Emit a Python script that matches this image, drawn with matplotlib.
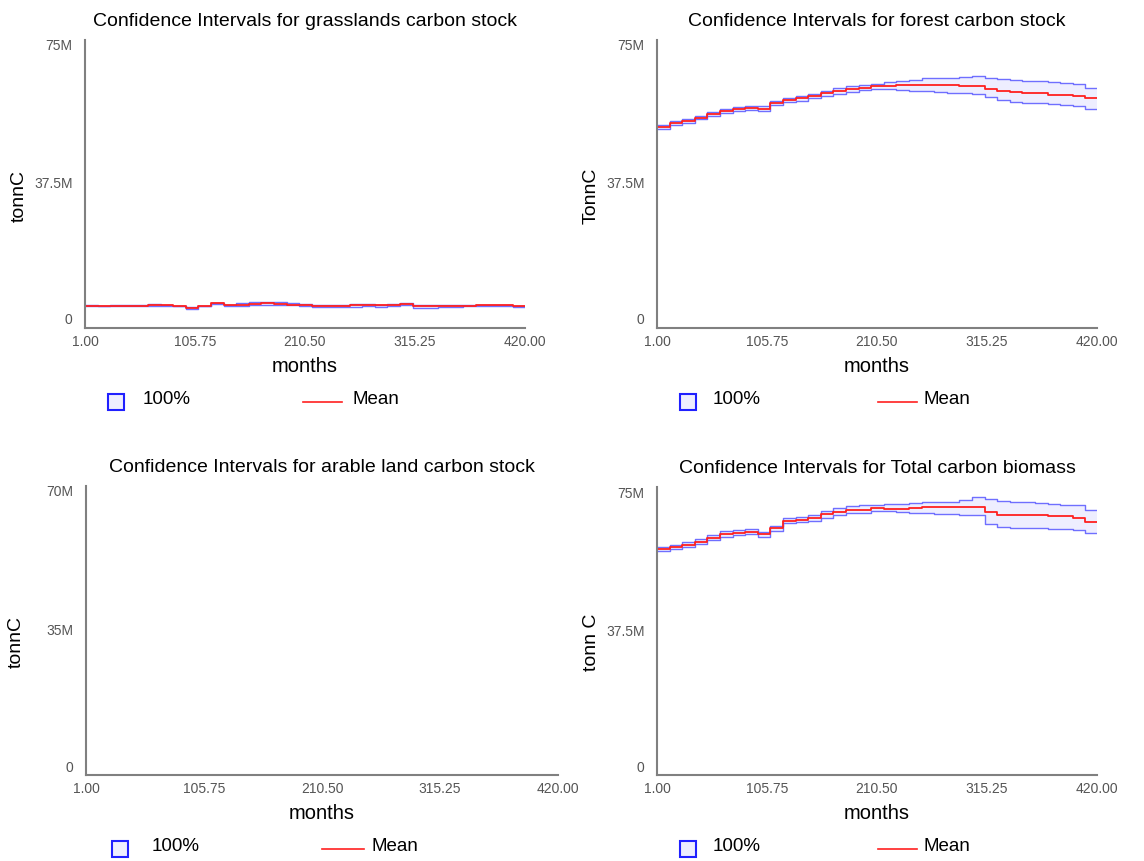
import numpy as np
import matplotlib
matplotlib.use("Agg")
from matplotlib import pyplot as plt
from matplotlib.transforms import ScaledTranslation

plt.rcParams['font.family'] = ['Liberation Sans', 'DejaVu Sans']

# month at which each yearly step starts (35 years -> 420 months)
months = np.arange(1, 421, 12)

# grasslands carbon stock [M tonnC]
grass_mean = [5.8, 5.75, 5.8, 5.8, 5.8, 6.0, 5.9, 5.75, 5.3, 5.75, 6.4, 5.9, 6.1, 6.3, 6.4,
              6.3, 6.1, 6.1, 5.8, 5.75, 5.8, 5.9, 6.0, 5.9, 6.0, 6.2, 5.75, 5.7, 5.75, 5.75,
              5.8, 6.0, 6.0, 5.9, 5.75]
grass_upper = [5.9, 5.85, 5.9, 5.9, 5.95, 6.2, 6.1, 5.85, 5.5, 5.85, 6.5, 6.1, 6.4, 6.7, 6.8,
               6.7, 6.4, 6.2, 5.9, 6.0, 6.1, 6.2, 6.2, 6.1, 6.2, 6.5, 6.1, 6.0, 6.0, 5.9,
               5.9, 6.1, 6.1, 6.0, 5.85]
grass_lower = [5.7, 5.65, 5.7, 5.7, 5.7, 5.6, 5.7, 5.65, 4.9, 5.6, 6.2, 5.7, 5.8, 5.9, 6.0,
               6.0, 5.9, 5.8, 5.5, 5.4, 5.4, 5.5, 5.6, 5.5, 5.6, 5.9, 5.3, 5.3, 5.4, 5.5,
               5.6, 5.8, 5.8, 5.7, 5.4]

# forest carbon stock [M TonnC]
forest_mean = [52.4, 53.3, 53.9, 54.8, 55.7, 56.5, 57.0, 57.4, 57.1, 58.6, 59.4, 59.8, 60.4,
               61.1, 61.7, 62.2, 62.6, 63.0, 63.1, 63.2, 63.3, 63.4, 63.4, 63.3, 63.1, 63.0,
               62.2, 61.7, 61.4, 61.2, 61.1, 60.8, 60.6, 60.5, 60.0]
forest_upper = [52.9, 53.8, 54.4, 55.3, 56.2, 57.0, 57.5, 57.9, 57.7, 59.2, 60.0, 60.4, 61.0,
                61.8, 62.4, 63.0, 63.3, 63.6, 64.0, 64.4, 64.7, 65.0, 65.0, 65.1, 65.3, 65.6,
                65.0, 64.8, 64.5, 64.4, 64.2, 64.0, 63.9, 63.6, 62.6]
forest_lower = [51.9, 52.8, 53.4, 54.3, 55.2, 56.0, 56.5, 56.9, 56.5, 58.0, 58.8, 59.2, 59.8,
                60.4, 61.0, 61.5, 61.9, 62.3, 62.2, 62.0, 61.8, 61.6, 61.4, 61.2, 61.1, 61.0,
                60.1, 59.4, 58.9, 58.7, 58.6, 58.4, 58.2, 57.9, 57.1]

# arable land carbon stock [M tonnC]
arable_mean = [0.0] * 35
arable_upper = [0.0] * 35
arable_lower = [0.0] * 35

# total carbon biomass [M tonn C]
total_mean = [58.8, 59.3, 59.9, 60.7, 61.7, 62.7, 63.1, 63.4, 62.7, 64.2, 66.2, 66.4, 66.9,
              67.9, 68.5, 69.0, 69.1, 69.5, 69.4, 69.3, 69.5, 69.7, 69.8, 69.7, 69.8, 69.9,
              68.5, 67.7, 67.6, 67.6, 67.7, 67.5, 67.4, 67.0, 66.0]
total_upper = [59.3, 59.9, 60.6, 61.4, 62.4, 63.5, 63.9, 64.1, 63.3, 64.8, 66.8, 67.1, 67.8,
               68.8, 69.5, 70.0, 70.2, 70.4, 70.5, 70.6, 70.8, 71.0, 71.2, 71.2, 71.6, 72.5,
               71.8, 71.3, 71.2, 71.0, 70.8, 70.6, 70.4, 70.2, 69.0]
total_lower = [58.3, 58.8, 59.4, 60.2, 61.1, 62.0, 62.5, 62.8, 62.0, 63.6, 65.6, 65.8, 66.2,
               67.0, 67.7, 68.2, 68.3, 68.8, 68.7, 68.5, 68.3, 68.1, 68.0, 67.9, 67.8, 67.7,
               65.3, 64.6, 64.4, 64.3, 64.2, 64.1, 64.0, 63.9, 63.0]

x_ticks = [1.0, 105.75, 210.5, 315.25, 420.0]

panels = [
    # title, ylabel, mean, upper, lower, ymax, ytick labels, axes rect, legend x positions
    ("Confidence Intervals for grasslands carbon stock", "tonnC",
     grass_mean, grass_upper, grass_lower, 75, ["0", "37.5M", "75M"],
     [85/1144, 1-328/861, 440/1144, 288/861], (0.07, 0.13, 0.495, 0.607)),
    ("Confidence Intervals for forest carbon stock", "TonnC",
     forest_mean, forest_upper, forest_lower, 75, ["0", "37.5M", "75M"],
     [657/1144, 1-328/861, 440/1144, 288/861], (0.07, 0.127, 0.502, 0.605)),
    ("Confidence Intervals for arable land carbon stock", "tonnC",
     arable_mean, arable_upper, arable_lower, 70, ["0", "35M", "70M"],
     [86/1144, 1-775/861, 472/1144, 289/861], (0.072, 0.14, 0.5, 0.605)),
    ("Confidence Intervals for Total carbon biomass", "tonn C",
     total_mean, total_upper, total_lower, 75, ["0", "37.5M", "75M"],
     [657/1144, 1-775/861, 440/1144, 288/861], (0.07, 0.127, 0.502, 0.605)),
]

fig = plt.figure(figsize=(11.44, 8.61), dpi=100)

for title, ylab, mean, upper, lower, ymax, ylabels, rect, lx in panels:
    ax = fig.add_axes(rect)
    xs = np.append(months, 420)
    m = np.append(mean, mean[-1]) * 1e6
    up = np.append(upper, upper[-1]) * 1e6
    lo = np.append(lower, lower[-1]) * 1e6

    ax.fill_between(xs, lo, up, step='post', color='#eeeeff', lw=0)
    ax.plot(xs, up, drawstyle='steps-post', color='#6f6fff', lw=1)
    ax.plot(xs, lo, drawstyle='steps-post', color='#6f6fff', lw=1)
    ax.plot(xs, m, drawstyle='steps-post', color='#ff2020', lw=1.3)

    ax.set_xlim(1, 420)
    ax.set_ylim(0, ymax * 1e6)
    ax.set_xticks(x_ticks)
    ax.set_xticklabels(["%.2f" % t for t in x_ticks])
    ax.set_yticks([0, ymax * 1e6 / 2, ymax * 1e6])
    ax.set_yticklabels(ylabels)
    ax.tick_params(length=0, labelsize=10, labelcolor='#555555')
    ax.tick_params(axis='x', pad=5)
    ax.tick_params(axis='y', pad=9)
    # vensim style: top label a bit below the top, bottom label above the axis
    for tick, dy in zip(ax.yaxis.get_major_ticks(), [9, 1, -5]):
        tick.label1.set_transform(tick.label1.get_transform()
                                  + ScaledTranslation(0, dy / 100, fig.dpi_scale_trans))

    for s in ['top', 'right']:
        ax.spines[s].set_visible(False)
    for s in ['left', 'bottom']:
        ax.spines[s].set_color('#808080')
        ax.spines[s].set_linewidth(1.5)

    ax.set_title(title, fontsize=14, pad=10)
    ax.set_xlabel("months", fontsize=14.5)
    ax.xaxis.set_label_coords(0.5, -0.1)
    ax.set_ylabel(ylab, fontsize=14)
    ax.yaxis.set_label_coords(-0.13, 0.46)

    # legend drawn below the axes
    ly = -0.257
    ax.plot([lx[0]], [ly], marker='s', ms=11, mfc='#eeeeff', mec='#2020ff', mew=1.5,
            transform=ax.transAxes, clip_on=False)
    ax.text(lx[1], ly + 0.008, "100%", transform=ax.transAxes, fontsize=13.5,
            va='center', ha='left')
    ax.plot([lx[2], lx[2] + 0.09], [ly, ly], color='#ff2020', lw=1.2,
            transform=ax.transAxes, clip_on=False)
    ax.text(lx[3], ly + 0.008, "Mean", transform=ax.transAxes, fontsize=13.5,
            va='center', ha='left')

fig.savefig("out.png", dpi=100)
